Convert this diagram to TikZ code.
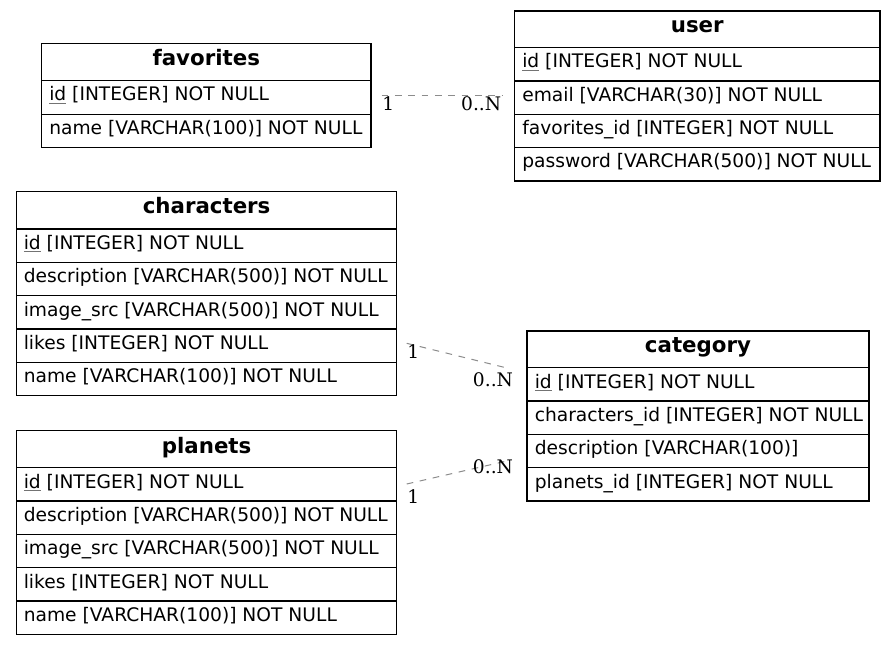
\documentclass[tikz,border=0pt]{standalone}
\usepackage{fontspec}
\setmainfont{DejaVu Sans}
\newfontfamily\seriflbl{DejaVu Serif}
\newcommand\pkid{{\color{black!55}\underline{\color{black}id}}}
\begin{document}
\begin{tikzpicture}[x=0.75pt,y=-0.75pt,
  tbl/.style={draw=black, line width=0.9pt},
  rowtxt/.style={anchor=base west, inner sep=0pt, font=\fontsize{14}{16}\selectfont},
  hdrtxt/.style={anchor=base, inner sep=0pt, font=\bfseries\fontsize{16}{18}\selectfont},
  rel/.style={draw={rgb,255:red,140;green,140;blue,140}, dash pattern=on 5pt off 5pt, line width=0.75pt},
  card/.style={inner sep=0pt, font=\seriflbl\fontsize{14}{16}\selectfont}]
\useasboundingbox (0,0) rectangle (896,645);
\fill[white] (0,0) rectangle (896,645);

% ---------- favorites ----------
\draw[tbl] (41.5,43.5) rectangle (371,147.7);
\draw[tbl] (41.5,80.7) -- (371,80.7);
\draw[tbl] (41.5,114.3) -- (371,114.3);
\node[hdrtxt] (fav) at (206.25,65.5) {favorites};
\node[rowtxt] (fav-id) at (49,101) {\pkid{} [INTEGER] NOT NULL};
\node[rowtxt] (fav-name) at (49,134.6) {name [VARCHAR(100)] NOT NULL};

% ---------- user ----------
\draw[tbl] (514.5,11) rectangle (880,181);
\foreach \yy in {47.7,81,114.3,147.7} \draw[tbl] (514.5,\yy) -- (880,\yy);
\node[hdrtxt] (usr) at (697.25,33) {user};
\node[rowtxt] (usr-id) at (522,68) {\pkid{} [INTEGER] NOT NULL};
\node[rowtxt] (usr-email) at (522,101.3) {email [VARCHAR(30)] NOT NULL};
\node[rowtxt] (usr-fav) at (522,134.6) {favorites\_id [INTEGER] NOT NULL};
\node[rowtxt] (usr-pw) at (522,168) {password [VARCHAR(500)] NOT NULL};

% ---------- characters ----------
\draw[tbl] (16.5,191.7) rectangle (396.7,395.7);
\foreach \yy in {229,262.3,295.7,329,362.3} \draw[tbl] (16.5,\yy) -- (396.7,\yy);
\node[hdrtxt] (chr) at (206.6,214) {characters};
\node[rowtxt] (chr-id) at (23.5,249.3) {\pkid{} [INTEGER] NOT NULL};
\node[rowtxt] (chr-desc) at (23.5,282.6) {description [VARCHAR(500)] NOT NULL};
\node[rowtxt] (chr-img) at (23.5,316) {image\_src [VARCHAR(500)] NOT NULL};
\node[rowtxt] (chr-likes) at (23.5,349.3) {likes [INTEGER] NOT NULL};
\node[rowtxt] (chr-name) at (23.5,382.6) {name [VARCHAR(100)] NOT NULL};

% ---------- planets ----------
\draw[tbl] (16.5,430.7) rectangle (396.7,634.3);
\foreach \yy in {467.7,501,534.3,567.7,601} \draw[tbl] (16.5,\yy) -- (396.7,\yy);
\node[hdrtxt] (pln) at (206.6,453) {planets};
\node[rowtxt] (pln-id) at (23.5,488) {\pkid{} [INTEGER] NOT NULL};
\node[rowtxt] (pln-desc) at (23.5,521.3) {description [VARCHAR(500)] NOT NULL};
\node[rowtxt] (pln-img) at (23.5,554.6) {image\_src [VARCHAR(500)] NOT NULL};
\node[rowtxt] (pln-likes) at (23.5,588) {likes [INTEGER] NOT NULL};
\node[rowtxt] (pln-name) at (23.5,621.3) {name [VARCHAR(100)] NOT NULL};

% ---------- category ----------
\draw[tbl] (527,331) rectangle (869,501);
\foreach \yy in {367.7,401,434.3,467.7} \draw[tbl] (527,\yy) -- (869,\yy);
\node[hdrtxt] (cat) at (698,353) {category};
\node[rowtxt] (cat-id) at (534.5,388) {\pkid{} [INTEGER] NOT NULL};
\node[rowtxt] (cat-chr) at (534.5,421.3) {characters\_id [INTEGER] NOT NULL};
\node[rowtxt] (cat-desc) at (534.5,454.6) {description [VARCHAR(100)]};
\node[rowtxt] (cat-pln) at (534.5,488) {planets\_id [INTEGER] NOT NULL};

% ---------- relations ----------
\coordinate (r1a) at (381.5,96);
\coordinate (r1b) at (502,96);
\draw[rel] (r1a) -- (r1b);
\node[card, anchor=base west] (r1one) at (382,111) {1};
\node[card, anchor=base east] (r1n) at (501.5,111) {0..N};

\coordinate (r2a) at (406.7,343.3);
\coordinate (r2b) at (509,368.5);
\draw[rel] (r2a) -- (r2b);
\node[card, anchor=base west] (r2one) at (407,358.3) {1};
\node[card, anchor=base east] (r2n) at (513.3,386) {0..N};

\coordinate (r3a) at (406.7,484);
\coordinate (r3b) at (509,460.5);
\draw[rel] (r3a) -- (r3b);
\node[card, anchor=base west] (r3one) at (407,503) {1};
\node[card, anchor=base east] (r3n) at (513.3,473.3) {0..N};
\end{tikzpicture}
\end{document}
